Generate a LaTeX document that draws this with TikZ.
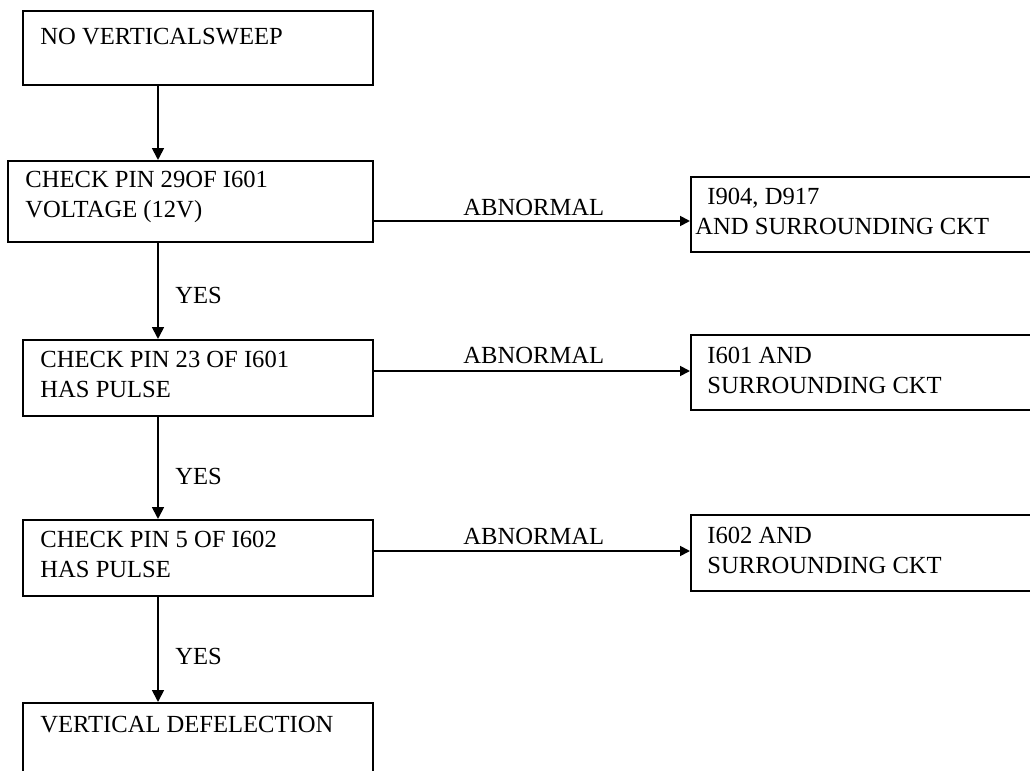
\documentclass[tikz,border=0pt]{standalone}
\usepackage{fontspec}
\setmainfont{Liberation Serif}
\usetikzlibrary{arrows.meta}
\begin{document}
\begin{tikzpicture}[x=0.5pt,y=-0.5pt,
  boxnode/.style={draw,line width=1.2pt,rectangle,inner sep=0pt,anchor=north west},
  txt/.style={anchor=base west,inner sep=0pt,font=\fontsize{12.3}{15}\selectfont},
  arr/.style={line width=0.9pt,-{Triangle[length=6pt,width=6pt]}},
  harr/.style={line width=0.9pt,-{Triangle[length=5pt,width=5pt]}}]
\clip (0,0) rectangle (1030,771);
\fill[white] (0,0) rectangle (1030,771);
% boxes
\node[boxnode,minimum width=175pt,minimum height=37pt] (b1) at (22,10) {};
\node[boxnode,minimum width=182.5pt,minimum height=40.5pt] (b2) at (7,160) {};
\node[boxnode,minimum width=172.5pt,minimum height=37.5pt] (b3) at (690,176) {};
\node[boxnode,minimum width=175pt,minimum height=38pt] (b4) at (22,339) {};
\node[boxnode,minimum width=172.5pt,minimum height=37.5pt] (b5) at (690,334) {};
\node[boxnode,minimum width=175pt,minimum height=38pt] (b6) at (22,519) {};
\node[boxnode,minimum width=172.5pt,minimum height=38pt] (b7) at (690,514) {};
\node[boxnode,minimum width=175pt,minimum height=45pt] (b8) at (22,702) {};
% texts
\node[txt] (t1) at (40,45) {NO VERTICALSWEEP};
\node[txt] (t2a) at (25,187) {CHECK PIN 29OF I601};
\node[txt] (t2b) at (25,217) {VOLTAGE (12V)};
\node[txt] (t3a) at (707,204) {I904, D917};
\node[txt] (t3b) at (695,234) {AND SURROUNDING CKT};
\node[txt] (t4a) at (40,367) {CHECK PIN 23 OF I601};
\node[txt] (t4b) at (40,397) {HAS PULSE};
\node[txt] (t5a) at (707,363) {I601 AND};
\node[txt] (t5b) at (707,393) {SURROUNDING CKT};
\node[txt] (t6a) at (40,547) {CHECK PIN 5 OF I602};
\node[txt] (t6b) at (40,577) {HAS PULSE};
\node[txt] (t7a) at (707,543) {I602 AND};
\node[txt] (t7b) at (707,573) {SURROUNDING CKT};
\node[txt] (t8) at (40,732) {VERTICAL DEFELECTION};
% labels
\node[txt] (y1) at (175,303) {YES};
\node[txt] (y2) at (175,484) {YES};
\node[txt] (y3) at (175,664) {YES};
\node[txt] (a1) at (463,215) {ABNORMAL};
\node[txt] (a2) at (463,363) {ABNORMAL};
\node[txt] (a3) at (463,544) {ABNORMAL};
% connector guides
\coordinate (vx) at (158,0);
\coordinate (h1) at (0,221);
\coordinate (h2) at (0,371);
\coordinate (h3) at (0,551);
% connectors
\draw[arr] (b1.south -| vx) -- (b2.north -| vx);
\draw[arr] (b2.south -| vx) -- (b4.north -| vx);
\draw[arr] (b4.south -| vx) -- (b6.north -| vx);
\draw[arr] (b6.south -| vx) -- (b8.north -| vx);
\draw[harr] (b2.east |- h1) -- (b3.west |- h1);
\draw[harr] (b4.east |- h2) -- (b5.west |- h2);
\draw[harr] (b6.east |- h3) -- (b7.west |- h3);
\end{tikzpicture}
\end{document}
